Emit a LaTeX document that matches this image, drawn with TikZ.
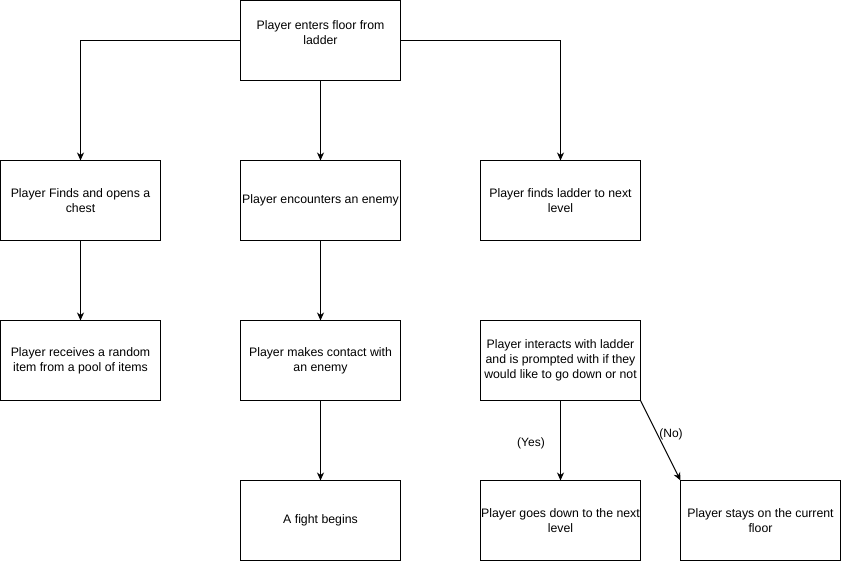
\documentclass[tikz,border=0pt]{standalone}
\usepackage{fontspec}
\setmainfont{Liberation Sans}
\usetikzlibrary{arrows.meta}
\begin{document}
\begin{tikzpicture}[x=1pt,y=-1pt,
  box/.style={draw=black,line width=1pt,minimum width=160pt,minimum height=80pt,inner sep=0pt,outer sep=0pt,align=center,font=\fontsize{12.3}{15}\selectfont},
  txt/.style={align=center,inner sep=0pt,font=\fontsize{12.3}{15}\selectfont},
  conn/.style={line width=1pt,-{Stealth[length=8pt,width=7pt,inset=2.5pt]}},
  lbl/.style={inner sep=1pt,font=\fontsize{12}{14}\selectfont}]
\useasboundingbox (0,0) rectangle (841,561);
\fill[white] (0,0) rectangle (841,561);
% row 1
\node[box] (top) at (320.5,40.5) {};
\node[txt] (toptxt) at (320.5,33) {Player enters floor from\\ladder};
% row 2
\node[box] (chest) at (80.5,200.5) {Player Finds and opens a\\chest};
\node[box] (enemy) at (320.5,200.5) {Player encounters an enemy};
\node[box] (ladder) at (560.5,200.5) {Player finds ladder to next\\level};
% row 3
\node[box] (item) at (80.5,360.5) {Player receives a random\\item from a pool of items};
\node[box] (contact) at (320.5,360.5) {Player makes contact with\\an enemy};
\node[box] (interact) at (560.5,360.5) {Player interacts with ladder\\and is prompted with if they\\would like to go down or not};
% row 4
\node[box] (fight) at (320.5,520.5) {A fight begins};
\node[box] (down) at (560.5,520.5) {Player goes down to the next\\level};
\node[box] (stay) at (760.5,520.5) {Player stays on the current\\floor};
% connectors
\draw[conn] (top.west) -| (chest.north);
\draw[conn] (top.east) -| (ladder.north);
\draw[conn] (top.south) -- (enemy.north);
\draw[conn] (chest.south) -- (item.north);
\draw[conn] (enemy.south) -- (contact.north);
\draw[conn] (contact.south) -- (fight.north);
\draw[conn] (interact.south) -- (down.north);
\draw[conn] (interact.south east) -- (stay.north west);
\node[lbl] (yes) at (531,443.5) {(Yes)};
\node[lbl] (no) at (671,434) {(No)};
\end{tikzpicture}
\end{document}
